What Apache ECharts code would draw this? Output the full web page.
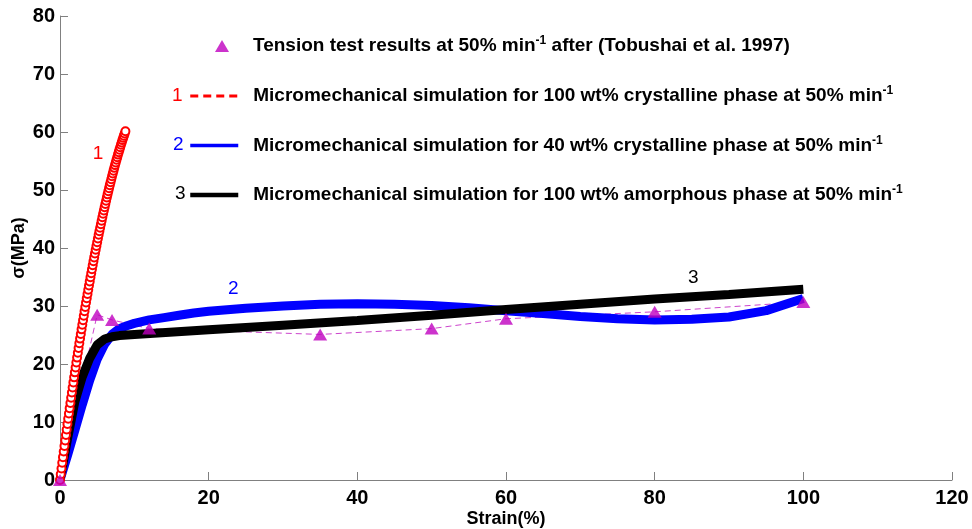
<!DOCTYPE html>
<html>
<head>
<meta charset="utf-8">
<script src="https://cdn.jsdelivr.net/npm/echarts@6/dist/echarts.min.js"></script>
<style>
  html, body { margin: 0; padding: 0; background: #ffffff; }
  #chart { width: 972px; height: 529px; }
</style>
</head>
<body>
<div id="chart"></div>
<script>
// Stress-strain curves: measured tension test and three micromechanical simulations

// Tension test results (triangles joined by a dashed line)
const strainTest = [0, 5, 7, 12, 35, 50, 60, 80, 100];
const stressTest = [0, 28.5, 27.6, 26.1, 25.1, 26.1, 27.8, 29.0, 30.7];

// Curve 1: 100 wt% crystalline phase
const strainCurve1 = [0, 0.1, 0.2, 0.3, 0.4, 0.5, 0.6, 0.7, 0.8, 0.9,
  1.0, 1.1, 1.2, 1.3, 1.4, 1.5, 1.6, 1.7, 1.8, 1.9,
  2.0, 2.1, 2.2, 2.3, 2.4, 2.5, 2.6, 2.7, 2.8, 2.9,
  3.0, 3.1, 3.2, 3.3, 3.4, 3.5, 3.6, 3.7, 3.8, 3.9,
  4.0, 4.1, 4.2, 4.3, 4.4, 4.5, 4.6, 4.7, 4.8, 4.9,
  5.0, 5.1, 5.2, 5.3, 5.4, 5.5, 5.6, 5.7, 5.8, 5.9,
  6.0, 6.1, 6.2, 6.3, 6.4, 6.5, 6.6, 6.7, 6.8, 6.9,
  7.0, 7.1, 7.2, 7.3, 7.4, 7.5, 7.6, 7.7, 7.8, 7.9,
  8.0, 8.1, 8.2, 8.3, 8.4, 8.5, 8.6, 8.7, 8.8];
const stressCurve1 = [0, 1.00, 1.99, 2.97, 3.94, 4.91, 5.87, 6.82, 7.77, 8.71,
  9.64, 10.56, 11.48, 12.39, 13.29, 14.19, 15.08, 15.96, 16.83, 17.70,
  18.56, 19.41, 20.26, 21.10, 21.93, 22.75, 23.57, 24.38, 25.18, 25.97,
  26.76, 27.54, 28.31, 29.08, 29.84, 30.59, 31.33, 32.07, 32.80, 33.52,
  34.24, 34.95, 35.65, 36.34, 37.03, 37.71, 38.38, 39.05, 39.71, 40.36,
  41.00, 41.64, 42.27, 42.89, 43.50, 44.11, 44.71, 45.30, 45.89, 46.47,
  47.04, 47.60, 48.16, 48.71, 49.25, 49.79, 50.32, 50.84, 51.35, 51.86,
  52.36, 52.85, 53.34, 53.82, 54.29, 54.75, 55.21, 55.66, 56.10, 56.53,
  56.96, 57.38, 57.79, 58.20, 58.60, 58.99, 59.37, 59.75, 60.12];

// Curve 2: 40 wt% crystalline phase
const strainCurve2 = [0, 1, 2, 3, 4, 5, 6, 7, 8, 9, 10, 12, 14, 16, 18, 20,
  25, 30, 35, 40, 45, 50, 55, 60, 65, 70, 75, 80, 85, 90, 95, 100];
const stressCurve2 = [0, 4.2, 8.6, 13.0, 17.2, 20.8, 23.4, 25.1, 26.1, 26.6, 27.0, 27.6, 28.0, 28.4, 28.8, 29.1,
  29.6, 30.0, 30.3, 30.4, 30.3, 30.1, 29.7, 29.2, 28.7, 28.2, 27.8, 27.6, 27.7, 28.1, 29.2, 31.3];

// Curve 3: 100 wt% amorphous phase
const strainCurve3 = [0, 1, 2, 3, 4, 5, 6, 7, 8, 10, 20, 30, 40, 50, 60, 70, 80, 90, 100];
const stressCurve3 = [0, 7.0, 13.5, 17.8, 21.0, 23.3, 24.3, 24.7, 24.9, 25.1, 25.9, 26.7, 27.5, 28.4, 29.4, 30.3, 31.2, 32.0, 32.9];

// Axis ticks
const xTicks = [0, 20, 40, 60, 80, 100, 120];
const yTicks = [0, 10, 20, 30, 40, 50, 60, 70, 80];

const seriesNames = [
  'Tension test results at 50% min-1 after (Tobushai et al. 1997)',
  'Micromechanical simulation for 100 wt% crystalline phase at 50% min-1',
  'Micromechanical simulation for 40 wt% crystalline phase at 50% min-1',
  'Micromechanical simulation for 100 wt% amorphous phase at 50% min-1'
];
const curveTags = ['1', '2', '3'];

const FONT = 'Arial, "Liberation Sans", Helvetica, sans-serif';
const RED = '#ff0000', BLUE = '#0000ff', BLACK = '#000000', MAGENTA = '#bf00bf';

function pairs(xs, ys) { return xs.map((x, i) => [x, ys[i]]); }

function tagPoint(tag, coord, color) {
  return {
    silent: true,
    symbol: 'circle',
    symbolSize: 1,
    itemStyle: { color: 'transparent' },
    label: { show: true, position: 'inside', formatter: tag, color: color, fontSize: 19, fontFamily: FONT },
    data: [{ coord: coord }]
  };
}

const legendText = {
  fontFamily: FONT, fontSize: 19, fontWeight: 'bold', color: '#000',
  rich: { sup: { fontFamily: FONT, fontSize: 12, fontWeight: 'bold', color: '#000', verticalAlign: 'top', lineHeight: 22 } }
};
function legendFormatter(name) { return name.replace('min-1', 'min{sup|-1}'); }

const chart = echarts.init(document.getElementById('chart'), null, { renderer: 'canvas' });

chart.setOption({
  animation: false,
  backgroundColor: '#ffffff',
  grid: { left: 60, right: 20, top: 16, bottom: 49, containLabel: false, outerBoundsMode: 'none' },
  xAxis: {
    type: 'value', min: xTicks[0], max: xTicks[xTicks.length - 1], interval: 20,
    name: 'Strain(%)', nameLocation: 'middle', nameGap: 30, nameMoveOverlap: false,
    nameTextStyle: { fontFamily: FONT, fontSize: 18, fontWeight: 'bold', color: '#000' },
    axisLine: { show: true, lineStyle: { color: '#808080', width: 1 } },
    axisTick: { show: true, inside: true, length: 8, lineStyle: { color: '#808080' } },
    axisLabel: { fontFamily: FONT, fontSize: 20, fontWeight: 'bold', color: '#000', margin: 8 },
    splitLine: { show: false }
  },
  yAxis: {
    type: 'value', min: yTicks[0], max: yTicks[yTicks.length - 1], interval: 10,
    name: 'σ(MPa)', nameLocation: 'middle', nameGap: 32, nameRotate: 90, nameMoveOverlap: false,
    nameTextStyle: { fontFamily: FONT, fontSize: 18, fontWeight: 'bold', color: '#000' },
    axisLine: { show: true, lineStyle: { color: '#808080', width: 1 } },
    axisTick: { show: true, inside: true, length: 8, lineStyle: { color: '#808080' } },
    axisLabel: { fontFamily: FONT, fontSize: 20, fontWeight: 'bold', color: '#000', margin: 5 },
    splitLine: { show: false }
  },
  legend: [
    {
      orient: 'vertical', left: 215, top: 35, padding: 0,
      itemWidth: 14, itemHeight: 12,
      data: [{ name: seriesNames[0], icon: 'triangle', itemStyle: { color: MAGENTA } }],
      formatter: legendFormatter,
      textStyle: Object.assign({ padding: [0, 0, 0, 19] }, legendText)
    },
    {
      orient: 'vertical', left: 188, top: 85, padding: 0,
      itemWidth: 48, itemHeight: 14, itemGap: 29,
      data: [
        { name: seriesNames[1], itemStyle: { opacity: 0 }, lineStyle: { color: RED, width: 3, type: [8, 5] } },
        { name: seriesNames[2], itemStyle: { opacity: 0 }, lineStyle: { color: BLUE, width: 3.5, type: 'solid' } },
        { name: seriesNames[3], itemStyle: { opacity: 0 }, lineStyle: { color: BLACK, width: 4.5, type: 'solid' } }
      ],
      formatter: legendFormatter,
      textStyle: Object.assign({ padding: [0, 0, 0, 10] }, legendText)
    }
  ],
  graphic: [
    { type: 'text', left: 172, top: 86, style: { text: curveTags[0], fill: RED, fontSize: 19, fontFamily: FONT } },
    { type: 'text', left: 173, top: 135, style: { text: curveTags[1], fill: BLUE, fontSize: 19, fontFamily: FONT } },
    { type: 'text', left: 175, top: 184, style: { text: curveTags[2], fill: BLACK, fontSize: 19, fontFamily: FONT } }
  ],
  series: [
    {
      name: seriesNames[2], type: 'line', z: 3,
      data: pairs(strainCurve2, stressCurve2),
      showSymbol: false, symbol: 'none',
      lineStyle: { color: BLUE, width: 9 },
      itemStyle: { color: BLUE },
      markPoint: tagPoint(curveTags[1], [23.3, 32.9], BLUE)
    },
    {
      name: seriesNames[3], type: 'line', z: 4,
      data: pairs(strainCurve3, stressCurve3),
      showSymbol: false, symbol: 'none',
      lineStyle: { color: BLACK, width: 9 },
      itemStyle: { color: BLACK },
      markPoint: tagPoint(curveTags[2], [85.2, 34.8], BLACK)
    },
    {
      name: seriesNames[1], type: 'line', z: 5,
      data: pairs(strainCurve1, stressCurve1),
      symbol: 'emptyCircle', symbolSize: 8, showAllSymbol: true,
      lineStyle: { color: RED, width: 1, type: 'dashed' },
      itemStyle: { color: RED, borderColor: RED, borderWidth: 1 },
      markPoint: tagPoint(curveTags[0], [5.1, 56.3], RED)
    },
    {
      name: 'test-connector', type: 'line', z: 2,
      data: pairs(strainTest, stressTest),
      showSymbol: false, symbol: 'none',
      lineStyle: { color: '#cc44cc', width: 1, type: [6, 4] }
    },
    {
      name: seriesNames[0], type: 'scatter', z: 6,
      data: pairs(strainTest, stressTest),
      symbol: 'triangle', symbolSize: [14, 12],
      itemStyle: { color: MAGENTA }
    }
  ]
});
</script>
</body>
</html>
